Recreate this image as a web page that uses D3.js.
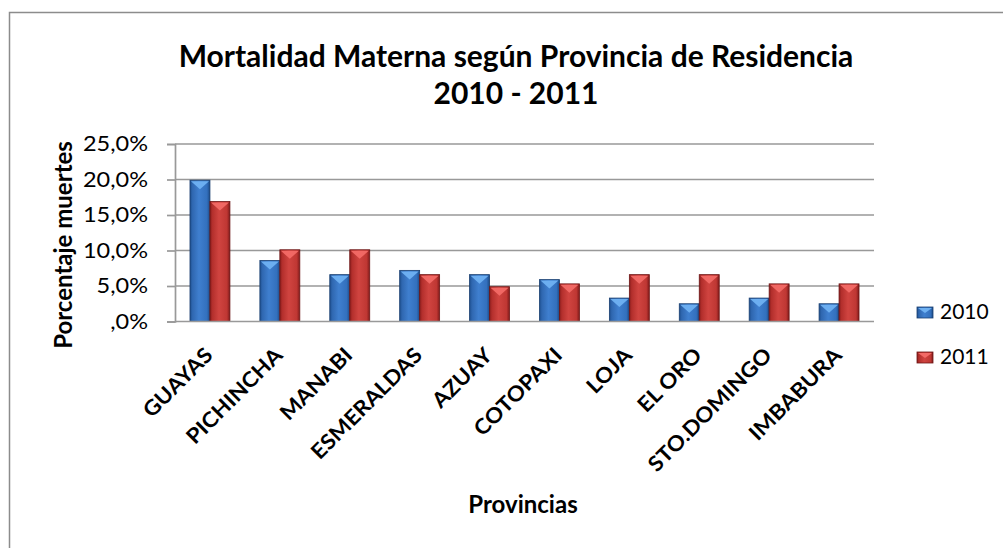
<!DOCTYPE html>
<html><head><meta charset="utf-8">
<script src="https://cdn.jsdelivr.net/npm/d3@7"></script>
<style>body{margin:0;background:#fff}svg{display:block}text{font-family:Lato,"Open Sans",sans-serif}</style>
</head><body>
<svg id="c" width="1003" height="548"></svg>
<script>
const categories = ["GUAYAS","PICHINCHA","MANABI","ESMERALDAS","AZUAY","COTOPAXI","LOJA","EL ORO","STO.DOMINGO","IMBABURA"];
const series2010 = [19.9, 8.6, 6.6, 7.2, 6.6, 5.9, 3.3, 2.5, 3.3, 2.5];
const series2011 = [16.9, 10.1, 10.1, 6.6, 4.9, 5.3, 6.6, 6.6, 5.3, 5.3];
const seriesNames = ["2010","2011"];
const yTicks = [0, 5, 10, 15, 20, 25];
const tickLabels = [",0%","5,0%","10,0%","15,0%","20,0%","25,0%"];

const svg = d3.select("#c");
const m = {l:175, r:874, t:144, b:321.5};

// frame
svg.append("rect").attr("x",9.5).attr("y",12.5).attr("width",1100).attr("height",600)
  .attr("fill","#fff").attr("stroke","#8c8c8c").attr("stroke-width",1.5);

const defs = svg.append("defs");
function grad(id, stops){
  const g = defs.append("linearGradient").attr("id",id).attr("x1","0").attr("x2","1").attr("y1","0").attr("y2","0");
  stops.forEach(s=>g.append("stop").attr("offset",s[0]).attr("stop-color",s[1]));
}
grad("gB",[[0,"#1d4f8f"],[0.12,"#2f67b0"],[0.45,"#3f7fcf"],[0.85,"#3370bd"],[1,"#1c4a86"]]);
grad("gR",[[0,"#8a1d1d"],[0.12,"#b32f2c"],[0.45,"#d04440"],[0.85,"#bf3733"],[1,"#7f1a1a"]]);
const fills = ["url(#gB)","url(#gR)"];
const tops = ["#6fb1f2","#f26a66"];
const strokes = ["#1a3f70","#6e1616"];

const x = d3.scaleBand().domain(categories).range([m.l, m.r]).paddingInner(0).paddingOuter(0);
const x1 = d3.scaleBand().domain(seriesNames).range([0, x.bandwidth()]).paddingInner(0).paddingOuter(0.75);
const y = d3.scaleLinear().domain([0,25]).range([m.b, m.t]);

// gridlines
svg.append("g").selectAll("line").data(yTicks.slice(1)).join("line")
  .attr("x1",m.l).attr("x2",m.r).attr("y1",d=>y(d)).attr("y2",d=>y(d))
  .attr("stroke","#999").attr("stroke-width",1.7);

// y axis
const sx = 1.12;
const yAxis = d3.axisLeft(y).tickValues(yTicks).tickSize(8).tickPadding(19)
  .tickFormat((d,i)=>tickLabels[i]);
const ya = svg.append("g").attr("transform",`translate(${m.l},0)`).call(yAxis);
ya.select(".domain").attr("stroke","#999").attr("stroke-width",1.7);
ya.selectAll(".tick line").attr("stroke","#999").attr("stroke-width",1.7);
ya.selectAll("text").attr("font-size",21).attr("fill","#000").attr("font-family","Lato,sans-serif")
  .attr("x",-27/sx).attr("transform",`scale(${sx},1)`);

// bars
const data = categories.map((c,i)=>({c, v:[series2010[i], series2011[i]]}));
const grp = svg.append("g").selectAll("g").data(data).join("g")
  .attr("transform",d=>`translate(${x(d.c)},0)`);
seriesNames.forEach((s,si)=>{
  grp.append("rect")
    .attr("x",x1(s)).attr("width",x1.bandwidth())
    .attr("y",d=>y(d.v[si])).attr("height",d=>m.b - y(d.v[si]))
    .attr("fill",fills[si]).attr("stroke",strokes[si]).attr("stroke-width",0.8);
  grp.append("path")
    .attr("d",d=>{
      const x0 = x1(s)+1, w = x1.bandwidth()-2, yt = y(d.v[si])+1;
      return `M${x0},${yt}L${x0+w},${yt}L${x0+w/2},${yt+8}Z`;
    })
    .attr("fill",tops[si]).attr("opacity",0.95);
});

// x axis baseline
svg.append("line").attr("x1",m.l).attr("x2",m.r).attr("y1",m.b).attr("y2",m.b)
  .attr("stroke","#999").attr("stroke-width",1.7);

// category labels
svg.append("g").selectAll("text").data(categories).join("text")
  .attr("transform",d=>`translate(${x(d)+x.bandwidth()/2+4},${m.b+35}) rotate(-45) scale(1.08,1)`)
  .attr("text-anchor","end").attr("font-size",21).attr("font-weight","bold")
  .text(d=>d);

// title
svg.append("text").attr("x",516).attr("y",67).attr("text-anchor","middle")
  .attr("font-size",30).attr("font-weight","bold").text("Mortalidad Materna según Provincia de Residencia");
svg.append("text").attr("x",516).attr("y",104).attr("text-anchor","middle")
  .attr("font-size",30).attr("font-weight","bold").text("2010 - 2011");

// axis titles
svg.append("text").attr("transform","translate(72,245) rotate(-90)").attr("text-anchor","middle")
  .attr("font-size",24).attr("font-weight","bold").text("Porcentaje muertes");
svg.append("text").attr("x",523).attr("y",513).attr("text-anchor","middle")
  .attr("font-size",24).attr("font-weight","bold").text("Provincias");

// legend
const lg = svg.append("g").selectAll("g").data(seriesNames).join("g")
  .attr("transform",(d,i)=>`translate(917,${307+i*45})`);
lg.append("rect").attr("width",16).attr("height",11).attr("fill",(d,i)=>fills[i]).attr("stroke",(d,i)=>strokes[i]).attr("stroke-width",0.8);
lg.append("path").attr("d","M1,1L15,1L8,6Z").attr("fill",(d,i)=>tops[i]);
lg.append("text").attr("x",23).attr("y",11.5).attr("font-size",21).text(d=>d);
</script>
</body></html>
